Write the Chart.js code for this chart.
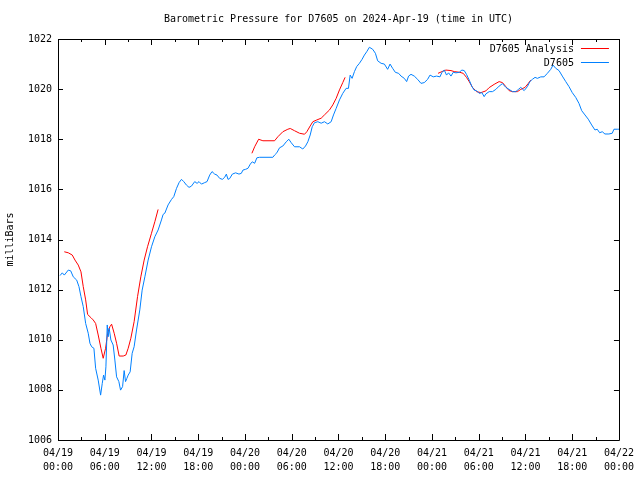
<!DOCTYPE html>
<html><head><meta charset="utf-8">
<script src="https://cdn.jsdelivr.net/npm/chart.js@4"></script>
<style>html,body{margin:0;padding:0;background:#fff}#wrap{width:640px;height:480px}</style>
</head><body><div id="wrap"><canvas id="c" width="640" height="480"></canvas></div>
<script>
const chartTitle = "Barometric Pressure for D7605 on 2024-Apr-19 (time in UTC)";
const yAxisTitle = "milliBars";
const seriesNames = ["D7605 Analysis", "D7605"];
const xTickDates = ["04/19","04/19","04/19","04/19","04/20","04/20","04/20","04/20","04/21","04/21","04/21","04/21","04/22"];
const xTickTimes = ["00:00","06:00","12:00","18:00","00:00","06:00","12:00","18:00","00:00","06:00","12:00","18:00","00:00"];
const yTickValues = [1006,1008,1010,1012,1014,1016,1018,1020,1022];

// hours since 04/19 00:00 UTC
const stationHours = [0.26,0.55,0.81,1.32,1.63,1.96,2.40,2.69,2.95,3.24,3.55,3.88,4.10,4.32,4.61,4.83,5.16,5.47,5.68,5.85,
6.02,6.15,6.32,6.44,6.57,6.79,7.08,7.30,7.52,7.81,8.03,8.29,8.49,8.67,8.84,9.01,9.26,9.52,9.77,10.08,
10.50,10.80,11.15,11.57,12.00,12.43,12.85,13.28,13.49,13.71,14.13,14.57,14.86,15.21,15.54,15.85,16.14,16.49,16.82,17.13,
17.55,17.85,18.10,18.41,18.83,19.13,19.47,19.77,20.11,20.41,20.75,21.10,21.39,21.61,21.82,22.03,22.38,22.80,23.23,23.53,
23.74,24.08,24.38,24.69,24.94,25.24,25.53,25.88,27.58,27.80,28.09,28.44,28.86,29.30,29.63,29.94,30.36,31.00,31.42,31.77,
32.07,32.37,32.63,32.92,33.35,33.78,34.20,34.63,35.06,35.36,35.70,36.13,36.55,36.98,37.28,37.50,37.75,38.05,38.34,38.69,
39.03,39.33,39.62,39.97,40.39,40.74,41.03,41.47,41.89,42.31,42.62,42.95,43.30,43.72,44.03,44.45,44.75,45.00,45.31,45.73,
46.16,46.59,47.01,47.44,47.75,48.17,48.59,49.03,49.28,49.58,49.87,50.13,50.44,50.73,51.08,51.50,51.84,52.14,52.43,52.78,
53.13,53.42,53.72,54.06,54.41,54.70,54.92,55.34,55.77,56.20,56.62,57.05,57.48,57.90,58.33,58.76,59.10,59.40,59.83,60.25,
60.56,60.89,61.23,61.53,61.97,62.39,62.81,63.25,63.54,63.89,64.31,64.73,65.17,65.59,66.01,66.45,66.87,67.22,67.64,68.06,
68.50,68.92,69.21,69.52,69.86,70.20,70.71,71.14,71.36,71.78,72.00];
const stationPressure = [1012.56,1012.67,1012.58,1012.78,1012.75,1012.51,1012.38,1012.12,1011.72,1011.32,1010.65,1010.26,1009.86,1009.72,1009.66,1008.86,1008.39,1007.79,1008.26,1008.59,
1008.39,1008.92,1010.59,1010.12,1010.46,1009.99,1009.79,1009.19,1008.52,1008.33,1007.99,1008.13,1008.77,1008.33,1008.46,1008.59,1008.72,1009.46,1009.72,1010.39,
1011.19,1011.98,1012.51,1013.18,1013.71,1014.11,1014.38,1014.78,1015.00,1015.05,1015.38,1015.60,1015.71,1016.04,1016.27,1016.40,1016.31,1016.17,1016.08,1016.13,
1016.31,1016.24,1016.31,1016.21,1016.27,1016.31,1016.57,1016.71,1016.61,1016.57,1016.44,1016.40,1016.48,1016.61,1016.40,1016.43,1016.61,1016.66,1016.61,1016.64,
1016.77,1016.80,1016.84,1017.01,1017.10,1017.04,1017.26,1017.28,1017.28,1017.37,1017.46,1017.66,1017.73,1017.90,1018.00,1017.86,1017.70,1017.70,1017.61,1017.73,
1017.90,1018.17,1018.50,1018.66,1018.70,1018.64,1018.70,1018.61,1018.70,1018.97,1019.23,1019.57,1019.83,1020.03,1020.03,1020.56,1020.43,1020.70,1020.90,1021.03,
1021.19,1021.36,1021.49,1021.67,1021.59,1021.43,1021.13,1021.03,1021.00,1020.79,1021.00,1020.83,1020.67,1020.63,1020.52,1020.43,1020.30,1020.52,1020.59,1020.52,
1020.39,1020.23,1020.26,1020.39,1020.56,1020.49,1020.52,1020.49,1020.67,1020.76,1020.56,1020.65,1020.52,1020.67,1020.65,1020.67,1020.76,1020.74,1020.59,1020.36,
1020.10,1019.96,1019.94,1019.83,1019.86,1019.70,1019.81,1019.90,1019.90,1019.99,1020.12,1020.22,1020.07,1019.99,1019.90,1019.90,1019.99,1020.07,1019.94,1020.10,
1020.30,1020.39,1020.47,1020.43,1020.49,1020.49,1020.63,1020.79,1020.96,1020.83,1020.74,1020.52,1020.30,1020.10,1019.86,1019.67,1019.43,1019.14,1018.97,1018.80,
1018.57,1018.37,1018.40,1018.26,1018.30,1018.21,1018.21,1018.24,1018.40,1018.40,1018.40];

const analysisHours = [0.81,1.32,1.83,2.18,2.60,2.95,3.24,3.55,3.80,4.23,4.52,4.83,5.16,5.51,5.80,6.11,6.37,6.66,6.88,7.21,
7.52,7.85,8.37,8.71,9.01,9.35,9.77,10.21,10.63,11.06,11.49,12.00,12.43,12.85,
18.00,
24.89,25.24,25.75,26.30,27.80,28.22,28.86,29.50,29.81,30.36,31.00,31.64,31.94,32.37,32.71,33.22,33.78,34.20,34.85,35.27,
35.70,36.13,36.55,36.85,
42.00,
48.78,49.28,49.79,50.44,50.86,51.59,52.01,52.43,52.78,53.20,53.72,54.28,54.92,55.34,55.98,56.62,57.05,57.48,57.90,58.33,
58.97,59.40,59.95,60.37,60.68];
const analysisPressure = [1013.51,1013.47,1013.38,1013.18,1012.98,1012.71,1012.12,1011.59,1011.01,1010.88,1010.79,1010.65,1010.19,1009.66,1009.26,1009.66,1010.26,1010.52,1010.62,1010.26,
1009.86,1009.35,1009.35,1009.39,1009.66,1010.06,1010.72,1011.72,1012.51,1013.18,1013.71,1014.25,1014.71,1015.20,
null,
1017.44,1017.70,1018.00,1017.94,1017.94,1018.10,1018.30,1018.40,1018.43,1018.34,1018.24,1018.20,1018.30,1018.53,1018.70,1018.77,1018.84,1018.97,1019.17,1019.37,
1019.63,1019.97,1020.26,1020.47,
null,
1020.63,1020.70,1020.76,1020.74,1020.70,1020.67,1020.63,1020.47,1020.30,1020.07,1019.90,1019.86,1019.93,1020.06,1020.19,1020.30,1020.26,1020.10,1019.94,1019.90,
1019.90,1019.99,1020.07,1020.23,1020.36];

const FONT = "DejaVu Sans Mono";
const RED = "#ff0000";
const BLUE = "#0080ff";

function pts(xs, ys){ const n = Math.min(xs.length, ys.length); const o=[]; for(let i=0;i<n;i++) o.push({x:xs[i], y:ys[i]}); return o; }

const decor = {
  id: 'decor',
  afterDraw(chart){
    const {ctx, chartArea:a, scales:{x, y}} = chart;
    ctx.save();
    ctx.strokeStyle = '#000'; ctx.lineWidth = 1;
    ctx.beginPath();
    ctx.rect(Math.round(a.left)+0.5, Math.round(a.top)+0.5, Math.round(a.right-a.left), Math.round(a.bottom-a.top));
    ctx.stroke();
    // x ticks (major every 6h, minor 3h), inward, mirrored on top
    ctx.beginPath();
    for (let h = 0; h <= 72; h += 3) {
      const px = Math.round(x.getPixelForValue(h)) + 0.5;
      const len = (h % 6 === 0) ? 6 : 3;
      ctx.moveTo(px, a.bottom); ctx.lineTo(px, a.bottom - len);
      ctx.moveTo(px, a.top); ctx.lineTo(px, a.top + len);
    }
    yTickValues.forEach(v => {
      const py = Math.round(y.getPixelForValue(v)) + 0.5;
      ctx.moveTo(a.left, py); ctx.lineTo(a.left + 5, py);
      ctx.moveTo(a.right, py); ctx.lineTo(a.right - 5, py);
    });
    ctx.stroke();
    // title
    ctx.fillStyle = '#000';
    ctx.font = "10px '" + FONT + "'";
    ctx.textAlign = 'center'; ctx.textBaseline = 'middle';
    ctx.fillText(chartTitle, (a.left + a.right) / 2, 19);
    // y axis title
    ctx.save();
    ctx.translate(10, (a.top + a.bottom) / 2);
    ctx.rotate(-Math.PI / 2);
    ctx.fillText(yAxisTitle, 0, 0);
    ctx.restore();
    // legend (text then line sample)
    ctx.textAlign = 'right';
    const colors = [RED, BLUE];
    seriesNames.forEach((name, i) => {
      const ly = a.top + 10 + i * 14;
      ctx.fillStyle = '#000';
      ctx.fillText(name, a.right - 45, ly);
      ctx.strokeStyle = colors[i];
      ctx.beginPath();
      ctx.moveTo(a.right - 38, Math.round(ly) - 0.5);
      ctx.lineTo(a.right - 10, Math.round(ly) - 0.5);
      ctx.stroke();
    });
    ctx.restore();
  }
};

new Chart(document.getElementById('c'), {
  type: 'line',
  data: {
    datasets: [
      { label: seriesNames[0], data: pts(analysisHours, analysisPressure), borderColor: RED, backgroundColor: RED,
        borderWidth: 1, pointRadius: 0, tension: 0, spanGaps: false, order: 1 },
      { label: seriesNames[1], data: pts(stationHours, stationPressure), borderColor: BLUE, backgroundColor: BLUE,
        borderWidth: 1, pointRadius: 0, tension: 0, spanGaps: false, order: 0 }
    ]
  },
  options: {
    responsive: false,
    animation: false,
    devicePixelRatio: 1,
    layout: { padding: { top: 39, right: 20, left: 0, bottom: 0 } },
    plugins: { legend: { display: false }, title: { display: false }, tooltip: { enabled: false } },
    scales: {
      x: {
        type: 'linear', min: 0, max: 72,
        afterBuildTicks: s => { s.ticks = xTickDates.map((d, i) => ({ value: i * 6 })); },
        afterFit: s => { s.height = 40; },
        grid: { display: false, drawTicks: false },
        border: { display: false },
        ticks: {
          autoSkip: false, maxRotation: 0, minRotation: 0, padding: 6, color: '#000',
          font: { family: FONT, size: 10, lineHeight: 1.4 },
          callback: (v) => { const i = Math.round(v / 6); return [xTickDates[i], xTickTimes[i]]; }
        }
      },
      y: {
        type: 'linear', min: 1006, max: 1022,
        afterBuildTicks: s => { s.ticks = yTickValues.map(v => ({ value: v })); },
        afterFit: s => { s.width = 58; },
        grid: { display: false, drawTicks: false },
        border: { display: false },
        ticks: { padding: 6, color: '#000', font: { family: FONT, size: 10 }, callback: v => String(v) }
      }
    }
  },
  plugins: [decor]
});
</script>
</body></html>
